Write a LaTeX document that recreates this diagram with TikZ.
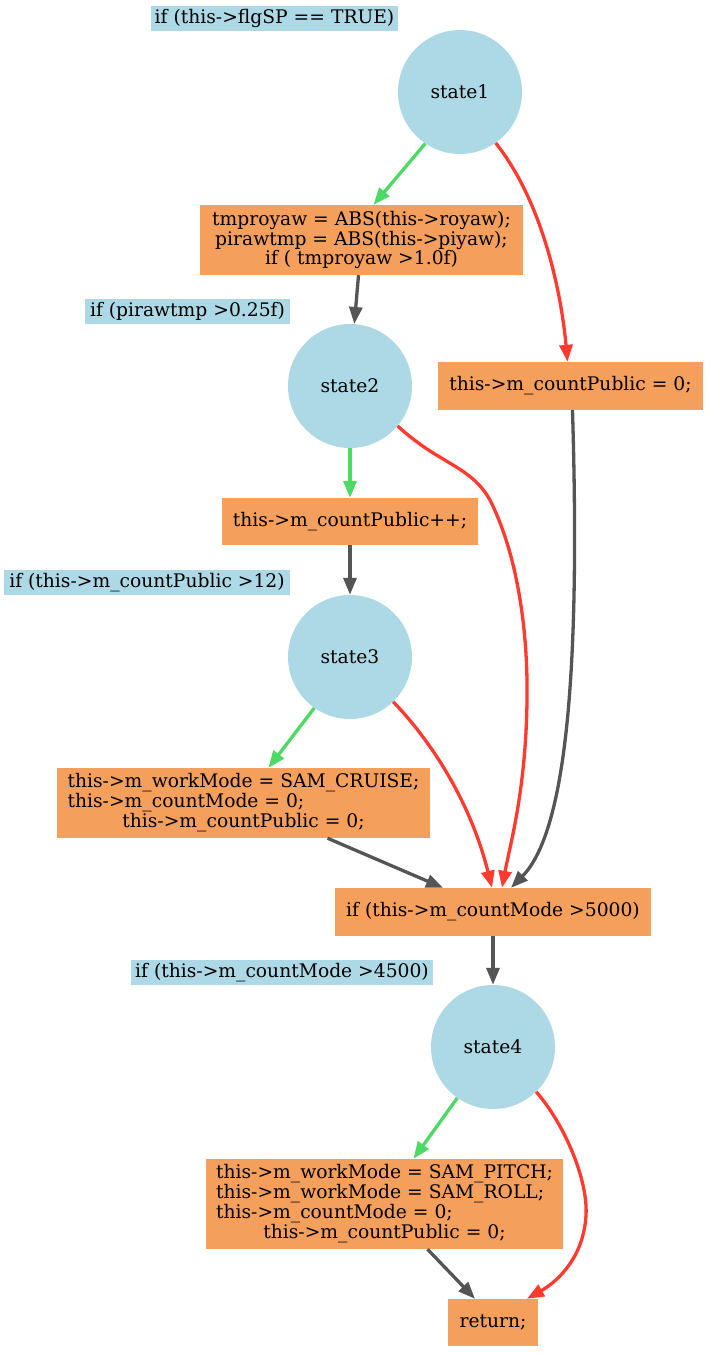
\documentclass[tikz,border=0pt]{standalone}
\usepackage{fontspec}
\setmainfont{DejaVu Serif}
\usetikzlibrary{arrows.meta}
\definecolor{lb}{RGB}{173,216,230}
\definecolor{sb}{RGB}{245,159,93}
\definecolor{eg}{RGB}{76,217,100}
\definecolor{er}{RGB}{255,59,48}
\definecolor{eb}{RGB}{85,85,85}
\begin{document}
\begin{tikzpicture}[x=1pt,y=-1pt,
  font=\fontsize{18.7}{19.5}\selectfont,
  st/.style={circle,fill=lb,minimum size=124pt,inner sep=0pt},
  act/.style={fill=sb,inner sep=0pt,align=center},
  lbl/.style={fill=lb,inner sep=0pt,minimum height=25pt},
  edge/.style={line width=3.3pt,-{Triangle[length=17pt,width=13pt]}},
  yes/.style={edge,draw=eg},
  no/.style={edge,draw=er},
  nx/.style={edge,draw=eb}]
\useasboundingbox (0,0) rectangle (709,1353);
% labels
\node[lbl,minimum width=247pt] (l1) at (274.5,18.5) {if (this->flgSP == TRUE)};
\node[lbl,minimum width=205pt] (l2) at (187.5,311.5) {if (pirawtmp >0.25f)};
\node[lbl,minimum width=286pt] (l3) at (147,582.5) {if (this->m\_countPublic >12)};
\node[lbl,minimum width=302pt] (l4) at (282,972.5) {if (this->m\_countMode >4500)};
% states
\node[st] (s1) at (460,92) {state1};
\node[st] (s2) at (350,386) {state2};
\node[st] (s3) at (350,657) {state3};
\node[st] (s4) at (493,1047) {state4};
% actions
\node[act,minimum width=323pt,minimum height=70pt] (b1) at (361.5,240) {tmproyaw = ABS(this->royaw);\\pirawtmp = ABS(this->piyaw);\\if ( tmproyaw >1.0f)};
\node[act,minimum width=265pt,minimum height=48pt] (cp0) at (570.5,386) {this->m\_countPublic = 0;};
\node[act,minimum width=256pt,minimum height=47pt] (cpp) at (350,521.5) {this->m\_countPublic++;};
\node[act,minimum width=373pt,minimum height=70pt] (cr) at (243.5,803) {\begin{tabular}{@{}l@{}}this->m\_workMode = SAM\_CRUISE;\\this->m\_countMode = 0;\\\multicolumn{1}{@{}c@{}}{this->m\_countPublic = 0;}\end{tabular}};
\node[act,minimum width=316pt,minimum height=48pt] (c5) at (493,912) {if (this->m\_countMode >5000)};
\node[act,minimum width=357pt,minimum height=90pt] (pt) at (384.5,1204) {\begin{tabular}{@{}l@{}}this->m\_workMode = SAM\_PITCH;\\this->m\_workMode = SAM\_ROLL;\\this->m\_countMode = 0;\\\multicolumn{1}{@{}c@{}}{this->m\_countPublic = 0;}\end{tabular}};
\node[act,minimum width=90pt,minimum height=47pt] (rt) at (493,1322.5) {return;};
% edges
\draw[yes] (s1.-124) -- ([xshift=12pt]b1.north);
\draw[no] (s1.-55) .. controls (545,205) and (562,300) .. ([xshift=-3pt]cp0.north);
\draw[nx] ([xshift=-3pt]b1.south) -- (s2.86);
\draw[yes] (s2.south) -- (cpp.north);
\draw[no] (s2.-40) .. controls (440,465) and (470,465) .. (490,500) .. controls (520,560) and (528,640) .. (527,700) .. controls (526,790) and (510,845) .. ([xshift=9pt]c5.north);
\draw[nx] ([xshift=2pt]cp0.south) .. controls (580,660) and (568,830) .. ([xshift=18pt]c5.north);
\draw[nx] (cpp.south) -- (s3.north);
\draw[yes] (s3.-125) -- ([xshift=25pt]cr.north);
\draw[no] (s3.-46) .. controls (430,740) and (470,800) .. ([xshift=-1pt]c5.north);
\draw[nx] ([xshift=84pt]cr.south) -- ([xshift=-50pt]c5.north);
\draw[nx] (c5.south) -- (s4.north);
\draw[yes] (s4.-125) -- ([xshift=29pt]pt.north);
\draw[no] (s4.-46) .. controls (565,1125) and (588,1180) .. (586,1215) .. controls (584,1255) and (560,1280) .. ([xshift=34pt]rt.north);
\draw[nx] ([xshift=43pt]pt.south) -- ([xshift=-18pt]rt.north);
\end{tikzpicture}
\end{document}
